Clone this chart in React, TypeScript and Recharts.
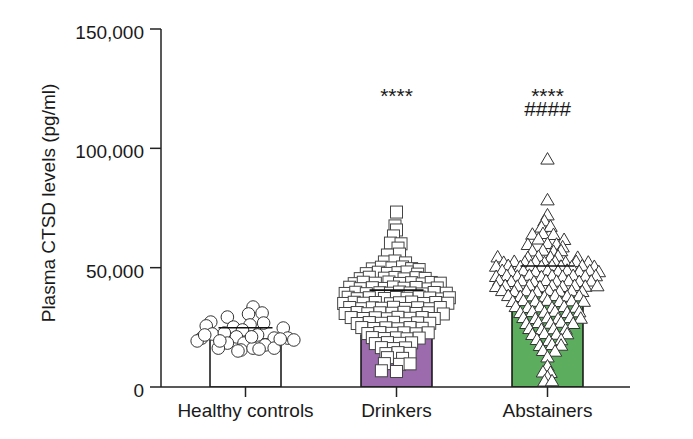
import React from "react";
import { ComposedChart, Bar, Scatter, XAxis, YAxis, ErrorBar, Cell } from "recharts";

const categories = ["Healthy controls", "Drinkers", "Abstainers"];
const barValues = [20100, 21800, 39500];
const capValues = [24800, 40600, 50700];
const barColors = ["#ffffff", "#9b6bad", "#5cad5e"];
const yTicks = [0, 50000, 100000, 150000];
const yLabel = "Plasma CTSD levels (pg/ml)";

// [jitter (category units), value]
const healthyPoints: [number, number][] = [
  [0.05, 33500], [0.02, 30600], [0.11, 31000], [-0.12, 29300], [-0.23, 27200], [-0.26, 25600],
  [-0.08, 25100], [0.03, 26000], [0.12, 26800], [0.25, 24700], [-0.02, 23900], [-0.29, 20500],
  [-0.22, 22200], [-0.14, 22600], [-0.06, 21000], [0.08, 21800], [0.19, 20500], [0.28, 20500],
  [0.32, 19700], [-0.32, 19300], [-0.01, 18400], [-0.12, 18400], [0.13, 17600], [-0.18, 16300],
  [-0.03, 15500], [0.05, 16300], [0.19, 16300], [0.09, 15900], [-0.05, 15100], [0.23, 20100],
  [-0.17, 19300], [-0.27, 21800], [0.04, 21000],
];

const drinkersPoints: [number, number][] = [
  [0.0, 73300], [-0.01, 67500], [0.0, 65800], [-0.02, 63300], [-0.04, 60300], [0.03, 60000],
  [0.01, 58200], [-0.06, 55300], [0.02, 55700], [-0.08, 52400], [-0.01, 52800], [0.06, 52000],
  [-0.16, 49500], [-0.1, 50200], [-0.03, 49900], [0.04, 50300], [0.1, 49600], [0.15, 49200],
  [-0.2, 47500], [-0.12, 48100], [-0.06, 47600], [0.01, 47900], [0.07, 48200], [0.14, 47300],
  [-0.24, 45400], [-0.18, 46000], [-0.08, 45600], [-0.01, 45900], [0.05, 45300], [0.13, 45800], [0.19, 45500],
  [-0.28, 43300], [-0.22, 43900], [-0.14, 43500], [-0.05, 44000], [0.02, 43400], [0.1, 43700], [0.17, 43200], [0.23, 43800], [0.29, 43500],
  [-0.31, 41800], [-0.24, 41200], [-0.16, 41600], [-0.08, 41300], [-0.02, 41900], [0.05, 41400], [0.13, 41700], [0.21, 41100], [0.27, 41500],
  [-0.34, 39200], [-0.27, 39700], [-0.2, 39100], [-0.11, 39500], [-0.04, 39300], [0.02, 39800], [0.09, 39400], [0.17, 39000], [0.25, 39600], [0.33, 39300],
  [-0.32, 37600], [-0.26, 37000], [-0.18, 37400], [-0.08, 37100], [0.0, 37500], [0.07, 37200], [0.15, 37700], [0.22, 37300], [0.3, 36900], [0.35, 37400],
  [-0.35, 35000], [-0.28, 35500], [-0.22, 35100], [-0.14, 35400], [-0.04, 34900], [0.02, 35300], [0.1, 35600], [0.18, 35000], [0.26, 35400], [0.34, 35100],
  [-0.31, 33300], [-0.23, 32800], [-0.16, 33200], [-0.1, 33000], [-0.02, 33400], [0.06, 32900], [0.14, 33200], [0.22, 32800], [0.29, 33300],
  [-0.34, 30800], [-0.26, 31200], [-0.19, 30700], [-0.11, 31100], [-0.03, 30900], [0.05, 31300], [0.13, 30800], [0.21, 31100], [0.31, 30600],
  [-0.3, 29100], [-0.22, 28700], [-0.14, 29000], [-0.06, 28600], [0.01, 29200], [0.09, 28800], [0.17, 29100], [0.25, 28700],
  [-0.26, 26600], [-0.18, 27000], [-0.1, 26700], [-0.02, 27100], [0.06, 26500], [0.14, 26900], [0.22, 26700],
  [-0.23, 24900], [-0.15, 24500], [-0.07, 24800], [0.01, 24400], [0.09, 24900], [0.17, 24600],
  [-0.19, 22400], [-0.11, 22800], [-0.03, 22500], [0.05, 22700], [0.13, 22300], [0.21, 22700],
  [-0.16, 20700], [-0.08, 20300], [0.0, 20600], [0.07, 20200], [0.15, 20500],
  [-0.14, 18200], [-0.06, 18600], [0.02, 18300], [0.1, 18500],
  [-0.1, 16500], [-0.02, 16100], [0.06, 16400],
  [-0.07, 14000], [0.01, 14400], [0.09, 14100],
  [-0.06, 12300], [0.04, 12000],
  [-0.08, 9800], [0.02, 9500], [0.09, 9700],
  [-0.1, 6800], [0.0, 6500],
];

const abstainersPoints: [number, number][] = [
  [0.0, 95500], [0.0, 78400], [0.0, 72100], [-0.02, 69600], [-0.04, 67000], [0.02, 67300],
  [-0.1, 64000], [-0.03, 64300], [0.04, 63900], [-0.06, 62000], [0.11, 61800], [-0.13, 59700],
  [0.0, 60100], [0.06, 59800], [0.1, 58700], [-0.1, 57000], [-0.03, 57300], [0.04, 56800], [0.09, 57100],
  [-0.33, 54500], [-0.13, 54200], [-0.06, 54700], [0.02, 54400], [0.07, 54800], [0.2, 54300],
  [-0.29, 52200], [-0.22, 52600], [-0.15, 52300], [-0.08, 52700], [-0.02, 52100], [0.05, 52500], [0.12, 52200], [0.19, 52600], [0.27, 52300],
  [-0.34, 50600], [-0.26, 50900], [-0.18, 50400], [-0.11, 50800], [-0.04, 50500], [0.03, 50900], [0.09, 50600], [0.16, 50300], [0.23, 50800], [0.31, 50500],
  [-0.3, 48800], [-0.24, 48400], [-0.16, 48700], [-0.08, 48300], [0.0, 48800], [0.07, 48500], [0.13, 48900], [0.21, 48400], [0.28, 48700], [0.34, 48300],
  [-0.34, 46300], [-0.27, 46700], [-0.2, 46400], [-0.12, 46800], [-0.04, 46200], [0.03, 46600], [0.1, 46300], [0.17, 46700], [0.25, 46400], [0.32, 46600],
  [-0.32, 44600], [-0.24, 44200], [-0.17, 44500], [-0.09, 44100], [-0.01, 44600], [0.06, 44300], [0.14, 44500], [0.21, 44200], [0.29, 44400],
  [-0.34, 42100], [-0.28, 42500], [-0.2, 42200], [-0.12, 42600], [-0.05, 42000], [0.03, 42400], [0.1, 42100], [0.18, 42500], [0.25, 42200], [0.33, 42400],
  [-0.3, 40400], [-0.22, 40000], [-0.14, 40300], [-0.07, 39900], [0.01, 40400], [0.08, 40100], [0.16, 40300], [0.23, 40000],
  [-0.26, 38300], [-0.18, 37900], [-0.1, 38200], [-0.02, 37800], [0.05, 38300], [0.13, 38000], [0.21, 38200],
  [-0.23, 35800], [-0.16, 36200], [-0.08, 35900], [0.0, 36300], [0.08, 35800], [0.16, 36100], [0.24, 35900],
  [-0.21, 33700], [-0.13, 33300], [-0.05, 33600], [0.03, 33200], [0.11, 33700], [0.19, 33400],
  [-0.18, 31200], [-0.1, 31600], [-0.02, 31300], [0.05, 31700], [0.13, 31200], [0.21, 31500],
  [-0.16, 29100], [-0.08, 28700], [0.0, 29000], [0.07, 28600], [0.15, 29100], [0.22, 28800],
  [-0.14, 26600], [-0.06, 27000], [0.02, 26700], [0.09, 27100], [0.17, 26600],
  [-0.12, 24500], [-0.04, 24100], [0.04, 24400], [0.12, 24200],
  [-0.1, 22000], [-0.02, 22400], [0.06, 22100], [0.13, 22300],
  [-0.07, 19900], [0.01, 19500], [0.09, 19800],
  [-0.05, 17400], [0.03, 17800], [0.09, 17500],
  [-0.03, 15300], [0.05, 15000],
  [0.0, 12600], [0.0, 8800], [-0.03, 6300], [0.02, 6100], [0.0, 4200], [-0.02, 2500], [0.03, 2600],
];

const annotationX = [1, 2, 2];
const annotationY = [119000, 119000, 113500];
const annotationText = ["****", "****", "####"];

const FONT = "'Liberation Sans', Arial, Helvetica, sans-serif";
const INK = "#1a1a1a";

const barData = categories.map((name, i) => ({ name, value: barValues[i] }));
const toPoints = (pairs: [number, number][], group: number) =>
  pairs.map(([j, v]) => ({ x: group + 0.5 + j, y: v }));
const errData = categories.map((_, i) => ({
  x: i + 0.5,
  y: capValues[i],
  err: [capValues[i] - barValues[i], 0],
}));
const annData = annotationText.map((t, i) => ({ x: annotationX[i] + 0.5, y: annotationY[i], t }));

const fmt = (v: number) => v.toLocaleString("en-US");

const circleShape = (p: any) => (
  <circle cx={p.cx} cy={p.cy} r={6.3} fill="#fff" stroke="#333" strokeWidth={1} />
);
const squareShape = (p: any) => (
  <rect x={p.cx - 6} y={p.cy - 6} width={12} height={12} fill="#fff" stroke="#444" strokeWidth={1} />
);
const triangleShape = (p: any) => (
  <polygon
    points={`${p.cx},${p.cy - 6.5} ${p.cx - 6.7},${p.cy + 5} ${p.cx + 6.7},${p.cy + 5}`}
    fill="#fff"
    stroke="#333"
    strokeWidth={1}
    strokeLinejoin="miter"
  />
);
const capShape = (p: any) => (
  <line x1={p.cx - 27} x2={p.cx + 27} y1={p.cy} y2={p.cy} stroke="#111" strokeWidth={1.6} />
);
const annShape = (p: any) => (
  <text x={p.cx} y={p.cy} textAnchor="middle" fontSize={21} fontFamily={FONT} fill={INK}>
    {p.payload.t}
  </text>
);

const YTick = (p: any) => (
  <text x={p.x} y={p.y + 10} textAnchor="end" fontSize={19} fontFamily={FONT} fill={INK}>
    {fmt(p.payload.value)}
  </text>
);
const XTick = (p: any) => (
  <text x={p.x} y={p.y + 18} textAnchor="middle" fontSize={19} fontFamily={FONT} fill={INK}>
    {p.payload.value}
  </text>
);

export default function App() {
  return (
    <div style={{ position: "absolute", left: 0, top: 0, width: 693, height: 439, background: "#fff" }}>
      <ComposedChart
        width={693}
        height={439}
        data={barData}
        margin={{ top: 29, right: 63, bottom: 0, left: 0 }}
      >
        <XAxis
          dataKey="name"
          height={52}
          padding={{ left: 9, right: 7 }}
          axisLine={{ stroke: "#222", strokeWidth: 1.5 }}
          tickLine={{ stroke: "#222", strokeWidth: 1.5 }}
          tickSize={10}
          tickMargin={2}
          tick={XTick}
          interval={0}
        />
        <XAxis
          xAxisId="s"
          dataKey="x"
          type="number"
          domain={[0, 3]}
          hide
          padding={{ left: 9, right: 7 }}
          allowDataOverflow
        />
        <YAxis
          width={161}
          domain={[0, 150000]}
          ticks={yTicks}
          allowDataOverflow
          axisLine={{ stroke: "#222", strokeWidth: 1.5 }}
          tickLine={{ stroke: "#222", strokeWidth: 1.5 }}
          tickSize={11}
          tickMargin={6}
          tick={YTick}
          label={{
            content: () => (
              <text
                x={48}
                y={203}
                transform="rotate(-90, 48, 203)"
                textAnchor="middle"
                dominantBaseline="central"
                fontSize={19}
                fontFamily={FONT}
                fill={INK}
              >
                {yLabel}
              </text>
            ),
          }}
        />
        <Bar dataKey="value" barSize={71} stroke="#111" strokeWidth={1.5} isAnimationActive={false}>
          {barData.map((_, i) => (
            <Cell key={i} fill={barColors[i]} />
          ))}
        </Bar>
        <Scatter xAxisId="s" data={toPoints(healthyPoints, 0)} dataKey="y" shape={circleShape} isAnimationActive={false} />
        <Scatter xAxisId="s" data={toPoints(drinkersPoints, 1)} dataKey="y" shape={squareShape} isAnimationActive={false} />
        <Scatter xAxisId="s" data={toPoints(abstainersPoints, 2)} dataKey="y" shape={triangleShape} isAnimationActive={false} />
        <Scatter xAxisId="s" data={errData} dataKey="y" shape={capShape} isAnimationActive={false}>
          <ErrorBar dataKey="err" direction="y" width={0} stroke="#111" strokeWidth={1.6} isAnimationActive={false} />
        </Scatter>
        <Scatter xAxisId="s" data={annData} dataKey="y" shape={annShape} isAnimationActive={false} />
      </ComposedChart>
    </div>
  );
}
